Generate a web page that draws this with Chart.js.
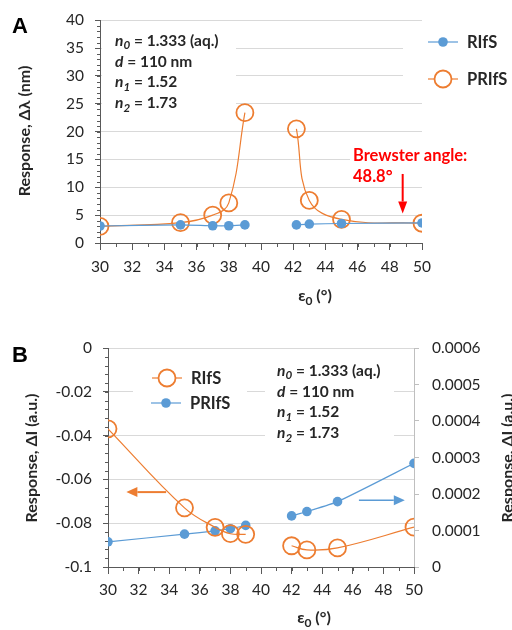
<!DOCTYPE html>
<html>
<head>
<meta charset="utf-8">
<script src="https://cdn.jsdelivr.net/npm/chart.js@4/dist/chart.umd.min.js"></script>
<style>
  body { margin: 0; background: #fff; }
  canvas { position: absolute; left: 0; }
  #chartA { top: 0; }
  #chartB { top: 320px; }
</style>
</head>
<body>
<canvas id="chartA" width="512" height="320"></canvas>
<canvas id="chartB" width="512" height="310"></canvas>
<script>
// Panel A: wavelength shift vs. incidence angle
const anglesA = [30, 35, 37, 38, 39, 42.2, 43, 45, 50];
const rifsA = [3.05, 3.25, 3.1, 3.1, 3.25, 3.25, 3.4, 3.5, 3.6];
const prifsA = [3.0, 3.65, 5.0, 7.2, 23.4, 20.5, 7.65, 4.25, 3.55];

// Panel B: intensity change vs. incidence angle
const anglesB = [30, 35, 37, 38, 39, 42, 43, 45, 50];
const rifsB = [-0.0369, -0.0730, -0.0819, -0.0848, -0.0851, -0.0903, -0.0922, -0.0913, -0.0818];
const prifsB = [0.000069, 0.000090, 0.000099, 0.000105, 0.000114, 0.000140, 0.000152, 0.000179, 0.000284];

// tick labels
const xTicks = [30, 32, 34, 36, 38, 40, 42, 44, 46, 48, 50];
const yTicksA = [0, 5, 10, 15, 20, 25, 30, 35, 40];
const yTicksB = [-0.1, -0.08, -0.06, -0.04, -0.02, 0];
const y2TicksB = [0, 0.0001, 0.0002, 0.0003, 0.0004, 0.0005, 0.0006];

const brewsterAngle = 48.8;
const gapAfter = 39; // no measurements between 39° and 42°

const ORANGE = '#ED7D31';
const BLUE = '#5B9BD5';
const AXIS = '#595959';
const GRID = '#d9d9d9';
const TEXT = '#262626';
const FONT = 'Lato, "Open Sans", sans-serif';

// each curve is drawn as two runs, split where angles are missing
function runs(xs, ys) {
  const pts = xs.map((x, i) => ({ x: x, y: ys[i] }));
  const cut = xs.indexOf(gapAfter) + 1;
  return [pts.slice(0, cut), pts.slice(cut)];
}

function fixedTicks(list) {
  return s => { s.ticks = list.map(v => ({ value: v })); };
}

// text made of pieces: {t, it (italic), sub (subscript)}
function piecesWidth(ctx, pieces, size) {
  let w = 0;
  pieces.forEach(r => {
    ctx.font = (r.it ? 'italic ' : '') + 'bold ' + (r.sub ? size * 0.75 : size) + 'px ' + FONT;
    w += ctx.measureText(r.t).width;
  });
  return w;
}

function drawPieces(ctx, x, y, pieces, size) {
  ctx.textBaseline = 'middle';
  ctx.textAlign = 'left';
  pieces.forEach(r => {
    const fs = r.sub ? size * 0.75 : size;
    ctx.font = (r.it ? 'italic ' : '') + 'bold ' + fs + 'px ' + FONT;
    ctx.fillText(r.t, x, y + (r.sub ? size * 0.3 : 0));
    x += ctx.measureText(r.t).width;
  });
}

const paramLines = [
  [{ t: 'n', it: true }, { t: '0', it: true, sub: true }, { t: ' = 1.333 (aq.)' }],
  [{ t: 'd', it: true }, { t: ' = 110 nm' }],
  [{ t: 'n', it: true }, { t: '1', it: true, sub: true }, { t: ' = 1.52' }],
  [{ t: 'n', it: true }, { t: '2', it: true, sub: true }, { t: ' = 1.73' }]
];
const angleTitle = [{ t: 'ε' }, { t: '0', sub: true }, { t: ' (°)' }];

function drawParams(ctx, x, y0, gap) {
  ctx.fillStyle = TEXT;
  paramLines.forEach((line, i) => drawPieces(ctx, x, y0 + i * gap, line, 15.5));
}

function drawXTitle(ctx, cx, cy) {
  ctx.fillStyle = TEXT;
  const w = piecesWidth(ctx, angleTitle, 16);
  drawPieces(ctx, cx - w / 2, cy, angleTitle, 16);
}

// rotated title; bx is the x of the text baseline
function drawYTitle(ctx, bx, cy, text) {
  ctx.save();
  ctx.translate(bx, cy);
  ctx.rotate(-Math.PI / 2);
  ctx.fillStyle = TEXT;
  ctx.font = 'bold 16px ' + FONT;
  ctx.textAlign = 'center';
  ctx.textBaseline = 'alphabetic';
  ctx.fillText(text, 0, 0);
  ctx.restore();
}

function panelLetter(ctx, x, y, letter) {
  ctx.fillStyle = '#000';
  ctx.font = 'bold 22px "Liberation Sans", Arial, sans-serif';
  ctx.textAlign = 'left';
  ctx.textBaseline = 'alphabetic';
  ctx.fillText(letter, x, y);
}

function minorTicks(ctx, scale, step, len, color) {
  const n = Math.round((scale.max - scale.min) / step);
  ctx.save();
  ctx.strokeStyle = color;
  ctx.lineWidth = 1;
  ctx.beginPath();
  for (let i = 0; i <= n; i++) {
    const p = Math.round(scale.getPixelForValue(scale.min + i * step)) + 0.5;
    if (scale.isHorizontal()) {
      ctx.moveTo(p, scale.top);
      ctx.lineTo(p, scale.top + len);
    } else if (scale.position === 'left') {
      ctx.moveTo(scale.right, p);
      ctx.lineTo(scale.right - len, p);
    } else {
      ctx.moveTo(scale.left, p);
      ctx.lineTo(scale.left + len, p);
    }
  }
  ctx.stroke();
  ctx.restore();
}

function whiteBoxes(ctx, boxes) {
  ctx.save();
  ctx.fillStyle = '#fff';
  boxes.forEach(b => ctx.fillRect(b[0], b[1], b[2], b[3]));
  ctx.restore();
}

function legendItem(ctx, x, y, label, color, hollow) {
  ctx.save();
  ctx.strokeStyle = color;
  ctx.lineWidth = 1.2;
  ctx.beginPath();
  ctx.moveTo(x - 15, y);
  ctx.lineTo(x + 15, y);
  ctx.stroke();
  ctx.beginPath();
  if (hollow) {
    ctx.arc(x, y, 8.5, 0, Math.PI * 2);
    ctx.fillStyle = '#fff';
    ctx.fill();
    ctx.lineWidth = 1.8;
    ctx.stroke();
  } else {
    ctx.arc(x, y, 4.8, 0, Math.PI * 2);
    ctx.fillStyle = color;
    ctx.fill();
  }
  ctx.fillStyle = TEXT;
  ctx.font = 'bold 16.5px ' + FONT;
  ctx.textAlign = 'left';
  ctx.textBaseline = 'middle';
  ctx.fillText(label, x + 24, y + 1);
  ctx.restore();
}

function arrow(ctx, x1, y1, x2, y2, color, lw, headLen, headW) {
  const a = Math.atan2(y2 - y1, x2 - x1);
  const bx = x2 - headLen * Math.cos(a), by = y2 - headLen * Math.sin(a);
  ctx.save();
  ctx.strokeStyle = color;
  ctx.fillStyle = color;
  ctx.lineWidth = lw;
  ctx.beginPath();
  ctx.moveTo(x1, y1);
  ctx.lineTo(bx, by);
  ctx.stroke();
  ctx.beginPath();
  ctx.moveTo(x2, y2);
  ctx.lineTo(bx + headW / 2 * Math.sin(a), by - headW / 2 * Math.cos(a));
  ctx.lineTo(bx - headW / 2 * Math.sin(a), by + headW / 2 * Math.cos(a));
  ctx.closePath();
  ctx.fill();
  ctx.restore();
}

const tickFont = { family: FONT, size: 15.5 };
const plainLabel = v => String(v);

function blueSeries(label, xs, ys, yAxisID) {
  return runs(xs, ys).map(data => ({
    label: label, data: data, yAxisID: yAxisID,
    borderColor: BLUE, backgroundColor: BLUE, borderWidth: 1.2,
    pointRadius: 4.8, pointBorderWidth: 0, pointBackgroundColor: BLUE,
    tension: 0.2
  }));
}

function orangeSeries(label, xs, ys, yAxisID) {
  return runs(xs, ys).map(data => ({
    label: label, data: data, yAxisID: yAxisID,
    borderColor: ORANGE, backgroundColor: 'rgba(0,0,0,0)', borderWidth: 1.2,
    pointRadius: 8.5, pointBorderWidth: 1.8, pointBorderColor: ORANGE,
    pointBackgroundColor: 'rgba(0,0,0,0)',
    tension: 0.4
  }));
}

// ---- Panel A ----
new Chart(document.getElementById('chartA'), {
  type: 'line',
  data: {
    datasets: [
      ...blueSeries('RIfS', anglesA, rifsA, 'y'),
      ...orangeSeries('PRIfS', anglesA, prifsA, 'y')
    ]
  },
  options: {
    responsive: false,
    animation: false,
    layout: { padding: { top: 19, right: 90, left: 0, bottom: 0 } },
    plugins: { legend: { display: false }, tooltip: { enabled: false } },
    scales: {
      x: {
        type: 'linear', min: 30, max: 50,
        afterBuildTicks: fixedTicks(xTicks),
        afterFit: s => { s.height = 77; },
        grid: { drawOnChartArea: false, tickLength: 7, tickColor: AXIS },
        border: { color: AXIS },
        ticks: { padding: 8, font: tickFont, color: TEXT, autoSkip: false, maxRotation: 0, callback: plainLabel }
      },
      y: {
        min: 0, max: 40,
        afterBuildTicks: fixedTicks(yTicksA),
        afterFit: s => { s.width = 100; },
        grid: { color: GRID, tickLength: 5, tickColor: AXIS },
        border: { color: AXIS },
        ticks: { padding: 11, font: tickFont, color: TEXT, callback: plainLabel }
      }
    }
  },
  plugins: [{
    id: 'panelA',
    beforeDatasetsDraw(chart) {
      const ctx = chart.ctx;
      whiteBoxes(ctx, [[102, 28, 134, 85], [403, 30, 109, 66], [350, 145, 162, 24]]);
      minorTicks(ctx, chart.scales.x, 1, 4, AXIS);
      minorTicks(ctx, chart.scales.y, 1, 3, AXIS);
    },
    afterDraw(chart) {
      const ctx = chart.ctx;
      const x = chart.scales.x, y = chart.scales.y;
      panelLetter(ctx, 12, 33, 'A');
      drawParams(ctx, 115, 41, 20.7);
      legendItem(ctx, 443, 42, 'RIfS', BLUE, false);
      legendItem(ctx, 443, 79, 'PRIfS', ORANGE, true);
      drawYTitle(ctx, 30, 131, 'Response, Δλ (nm)');
      drawXTitle(ctx, 315, 296);

      ctx.save();
      ctx.fillStyle = '#FF0000';
      ctx.font = 'bold 16.5px ' + FONT;
      ctx.textAlign = 'left';
      ctx.textBaseline = 'alphabetic';
      ctx.fillText('Brewster angle:', 353, 161);
      ctx.fillText('48.8°', 353, 182);
      ctx.restore();
      const bx = x.getPixelForValue(brewsterAngle);
      arrow(ctx, bx, y.getPixelForValue(12.4), bx, y.getPixelForValue(5.3), '#FF0000', 2, 12, 9);
    }
  }]
});

// ---- Panel B ----
new Chart(document.getElementById('chartB'), {
  type: 'line',
  data: {
    datasets: [
      ...orangeSeries('RIfS', anglesB, rifsB, 'y'),
      ...blueSeries('PRIfS', anglesB, prifsB, 'y2')
    ]
  },
  options: {
    responsive: false,
    animation: false,
    layout: { padding: { top: 28, right: 0, left: 0, bottom: 0 } },
    plugins: { legend: { display: false }, tooltip: { enabled: false } },
    scales: {
      x: {
        type: 'linear', min: 30, max: 50,
        afterBuildTicks: fixedTicks(xTicks),
        afterFit: s => { s.height = 63; },
        grid: { drawOnChartArea: false, tickLength: 7, tickColor: AXIS },
        border: { color: AXIS },
        ticks: { padding: 7, font: tickFont, color: TEXT, autoSkip: false, maxRotation: 0, callback: plainLabel }
      },
      y: {
        position: 'left', min: -0.1, max: 0,
        afterBuildTicks: fixedTicks(yTicksB),
        afterFit: s => { s.width = 108; },
        grid: { color: GRID, tickLength: 5, tickColor: AXIS },
        border: { color: AXIS },
        ticks: { padding: 11, font: tickFont, color: TEXT, callback: plainLabel }
      },
      y2: {
        position: 'right', min: 0, max: 0.0006,
        afterBuildTicks: fixedTicks(y2TicksB),
        afterFit: s => { s.width = 98; },
        grid: { drawOnChartArea: false, tickLength: 5, tickColor: '#bfbfbf' },
        border: { color: '#bfbfbf' },
        ticks: { padding: 13, font: tickFont, color: TEXT, callback: plainLabel }
      }
    }
  },
  plugins: [{
    id: 'panelB',
    beforeDatasetsDraw(chart) {
      const ctx = chart.ctx;
      whiteBoxes(ctx, [[133, 45, 114, 50], [265, 32, 129, 90]]);
      minorTicks(ctx, chart.scales.x, 1, 4, AXIS);
      minorTicks(ctx, chart.scales.y, 0.004, 3, AXIS);
    },
    afterDraw(chart) {
      const ctx = chart.ctx;
      const x = chart.scales.x, y = chart.scales.y, y2 = chart.scales.y2;
      panelLetter(ctx, 12, 42, 'B');
      legendItem(ctx, 167, 58, 'RIfS', ORANGE, true);
      legendItem(ctx, 166, 83, 'PRIfS', BLUE, false);
      drawParams(ctx, 277, 51, 20.7);
      drawYTitle(ctx, 37, 138, 'Response, ΔI (a.u.)');
      drawYTitle(ctx, 513, 138, 'Response, ΔI (a.u.)');
      drawXTitle(ctx, 314, 298);

      // arrows pointing to the axis each series belongs to
      const ya = y.getPixelForValue(-0.0658);
      arrow(ctx, x.getPixelForValue(33.8), ya, x.getPixelForValue(31.2), ya, ORANGE, 2, 11, 10);
      const yb = y2.getPixelForValue(0.000183);
      arrow(ctx, x.getPixelForValue(46.4), yb, x.getPixelForValue(49.4), yb, BLUE, 1.5, 11, 10);
    }
  }]
});
</script>
</body>
</html>
